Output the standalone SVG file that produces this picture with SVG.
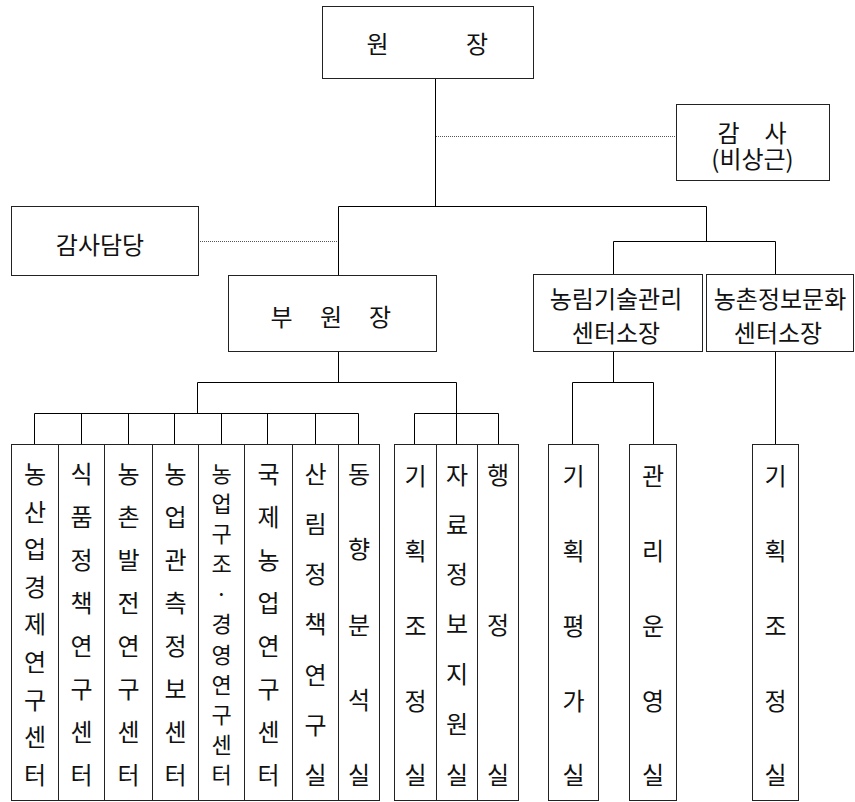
<svg xmlns="http://www.w3.org/2000/svg" width="855" height="802" viewBox="0 0 855 802">
<style>
.box{fill:#fff;stroke:#222;stroke-width:1}
.ln{fill:none;stroke:#000;stroke-width:1}
.dot{fill:none;stroke:#555;stroke-width:1;stroke-dasharray:1 1}
text{font-family:"Noto Sans CJK KR","Noto Sans",sans-serif;font-size:24px;fill:#111;text-anchor:middle;dominant-baseline:central}
.sq{font-size:22px}
</style>
<rect width="855" height="802" fill="#fff"/>
<g id="connectors">
<path class="ln" d="M435.5 78V206.5M338.5 206.5H706.5M338.5 206.5V275M706.5 206.5V241.5M613.5 241.5H775.5M613.5 241.5V274M775.5 241.5V274"/>
<path class="dot" d="M436 136.5H676M198 241.5H338"/>
<path class="ln" d="M338.5 351V382.5M197.5 382.5H456.5M197.5 382.5V413.5M34.5 413.5H358.5M34.5 413.5V444M81.5 413.5V444M128.5 413.5V444M174.5 413.5V444M221.5 413.5V444M267.5 413.5V444M315.5 413.5V444M358.5 413.5V444M456.5 382.5V444M414.5 413.5H498.5M414.5 413.5V444M498.5 413.5V444"/>
<path class="ln" d="M613.5 351V382.5M572.5 382.5H653.5M572.5 382.5V444M653.5 382.5V444M775.5 351V444"/>
</g>
<g id="n-wonjang"><rect class="box" x="322.5" y="6.5" width="211" height="72"/><text x="377.5" y="42">원</text><text x="477" y="42">장</text></g>
<g id="n-gamsa"><rect class="box" x="676.5" y="104.5" width="153" height="76"/><text x="728.5" y="131">감</text><text x="775.5" y="131">사</text><text x="752.5" y="157">(비상근)</text></g>
<g id="n-gamsadamdang"><rect class="box" x="11.5" y="206.5" width="187" height="69"/><text x="100" y="243">감사담당</text></g>
<g id="n-buwonjang"><rect class="box" x="228.5" y="275.5" width="208" height="76"/><text x="281.5" y="315">부</text><text x="331" y="315">원</text><text x="380" y="315">장</text></g>
<g id="n-nonglim"><rect class="box" x="533.5" y="274.5" width="169" height="77"/><text x="616" y="297">농림기술관리</text><text x="616" y="331">센터소장</text></g>
<g id="n-nongchon"><rect class="box" x="706.5" y="274.5" width="147" height="77"/><text x="780" y="297">농촌정보문화</text><text x="778" y="331">센터소장</text></g>
<g id="n-c1"><rect class="box" x="11.5" y="444.5" width="47" height="356"/><text><tspan x="35" y="472">농</tspan><tspan x="35" y="510">산</tspan><tspan x="35" y="547">업</tspan><tspan x="35" y="585">경</tspan><tspan x="35" y="622">제</tspan><tspan x="35" y="660">연</tspan><tspan x="35" y="698">구</tspan><tspan x="35" y="735">센</tspan><tspan x="35" y="773">터</tspan></text></g>
<g id="n-c2"><rect class="box" x="58.5" y="444.5" width="46" height="356"/><text><tspan x="81.5" y="472">식</tspan><tspan x="81.5" y="515">품</tspan><tspan x="81.5" y="558">정</tspan><tspan x="81.5" y="601">책</tspan><tspan x="81.5" y="644">연</tspan><tspan x="81.5" y="687">구</tspan><tspan x="81.5" y="730">센</tspan><tspan x="81.5" y="773">터</tspan></text></g>
<g id="n-c3"><rect class="box" x="104.5" y="444.5" width="48" height="356"/><text><tspan x="128.5" y="472">농</tspan><tspan x="128.5" y="515">촌</tspan><tspan x="128.5" y="558">발</tspan><tspan x="128.5" y="601">전</tspan><tspan x="128.5" y="644">연</tspan><tspan x="128.5" y="687">구</tspan><tspan x="128.5" y="730">센</tspan><tspan x="128.5" y="773">터</tspan></text></g>
<g id="n-c4"><rect class="box" x="152.5" y="444.5" width="46" height="356"/><text><tspan x="175.5" y="472">농</tspan><tspan x="175.5" y="515">업</tspan><tspan x="175.5" y="558">관</tspan><tspan x="175.5" y="601">측</tspan><tspan x="175.5" y="644">정</tspan><tspan x="175.5" y="687">보</tspan><tspan x="175.5" y="730">센</tspan><tspan x="175.5" y="773">터</tspan></text></g>
<g id="n-c5"><rect class="box" x="198.5" y="444.5" width="46" height="356"/><text class="sq"><tspan x="221.5" y="472">농</tspan><tspan x="221.5" y="502">업</tspan><tspan x="221.5" y="532">구</tspan><tspan x="221.5" y="562">조</tspan><tspan x="221.5" y="592">·</tspan><tspan x="221.5" y="622">경</tspan><tspan x="221.5" y="653">영</tspan><tspan x="221.5" y="683">연</tspan><tspan x="221.5" y="713">구</tspan><tspan x="221.5" y="743">센</tspan><tspan x="221.5" y="773">터</tspan></text></g>
<g id="n-c6"><rect class="box" x="244.5" y="444.5" width="48" height="356"/><text><tspan x="268.5" y="472">국</tspan><tspan x="268.5" y="515">제</tspan><tspan x="268.5" y="558">농</tspan><tspan x="268.5" y="601">업</tspan><tspan x="268.5" y="644">연</tspan><tspan x="268.5" y="687">구</tspan><tspan x="268.5" y="730">센</tspan><tspan x="268.5" y="773">터</tspan></text></g>
<g id="n-c7"><rect class="box" x="292.5" y="444.5" width="46" height="356"/><text><tspan x="315.5" y="472">산</tspan><tspan x="315.5" y="522">림</tspan><tspan x="315.5" y="572">정</tspan><tspan x="315.5" y="622">책</tspan><tspan x="315.5" y="673">연</tspan><tspan x="315.5" y="723">구</tspan><tspan x="315.5" y="773">실</tspan></text></g>
<g id="n-c8"><rect class="box" x="338.5" y="444.5" width="41" height="356"/><text><tspan x="359" y="472">동</tspan><tspan x="359" y="547">향</tspan><tspan x="359" y="623">분</tspan><tspan x="359" y="698">석</tspan><tspan x="359" y="773">실</tspan></text></g>
<g id="n-c9"><rect class="box" x="394.5" y="444.5" width="42" height="356"/><text><tspan x="415.5" y="474">기</tspan><tspan x="415.5" y="549">획</tspan><tspan x="415.5" y="624">조</tspan><tspan x="415.5" y="699">정</tspan><tspan x="415.5" y="773">실</tspan></text></g>
<g id="n-c10"><rect class="box" x="436.5" y="444.5" width="41" height="356"/><text><tspan x="457" y="473">자</tspan><tspan x="457" y="523">료</tspan><tspan x="457" y="572">정</tspan><tspan x="457" y="622">보</tspan><tspan x="457" y="672">지</tspan><tspan x="457" y="722">원</tspan><tspan x="457" y="773">실</tspan></text></g>
<g id="n-c11"><rect class="box" x="477.5" y="444.5" width="41" height="356"/><text><tspan x="498" y="473">행</tspan><tspan x="498" y="623">정</tspan><tspan x="498" y="773">실</tspan></text></g>
<g id="n-c12"><rect class="box" x="548.5" y="444.5" width="50" height="356"/><text><tspan x="573.5" y="474">기</tspan><tspan x="573.5" y="549">획</tspan><tspan x="573.5" y="624">평</tspan><tspan x="573.5" y="699">가</tspan><tspan x="573.5" y="773">실</tspan></text></g>
<g id="n-c13"><rect class="box" x="629.5" y="444.5" width="47" height="356"/><text><tspan x="653" y="474">관</tspan><tspan x="653" y="549">리</tspan><tspan x="653" y="624">운</tspan><tspan x="653" y="699">영</tspan><tspan x="653" y="773">실</tspan></text></g>
<g id="n-c14"><rect class="box" x="752.5" y="444.5" width="46" height="356"/><text><tspan x="775.5" y="474">기</tspan><tspan x="775.5" y="549">획</tspan><tspan x="775.5" y="624">조</tspan><tspan x="775.5" y="699">정</tspan><tspan x="775.5" y="773">실</tspan></text></g>
</svg>
